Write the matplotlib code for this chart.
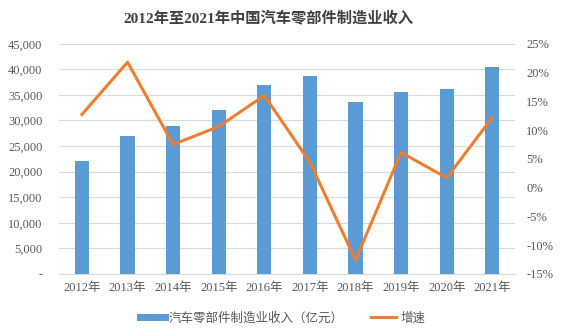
import matplotlib
matplotlib.use("Agg")
import matplotlib.pyplot as plt
from matplotlib.ticker import FuncFormatter
from matplotlib.lines import Line2D

years = ['2012年', '2013年', '2014年', '2015年', '2016年',
         '2017年', '2018年', '2019年', '2020年', '2021年']
revenue = [22100, 27000, 29000, 32000, 37000, 38700, 33600, 35600, 36100, 40500]
growth = [12.7, 21.8, 7.5, 10.6, 16.0, 4.4, -12.6, 6.1, 1.7, 12.2]

blue = '#5B9BD5'
orange = '#ED7D31'
grey = '#595959'
serif = ['Liberation Serif', 'Noto Sans CJK SC']

fig = plt.figure(figsize=(5.63, 3.34), dpi=100)
ax = fig.add_axes([0.105, 0.18, 0.81, 0.689])
x = list(range(len(years)))
ax.bar(x, revenue, width=0.31, color=blue, zorder=3)
ax.set_xlim(-0.5, len(years) - 0.5)
ax.set_ylim(0, 45000)
ax.set_yticks(range(0, 45001, 5000))
ax.yaxis.set_major_formatter(FuncFormatter(lambda v, p: '-' if v == 0 else f'{int(v):,}'))
ax.grid(axis='y', color='#d9d9d9', linewidth=0.8, zorder=0)
ax.set_xticks(x)
ax.set_xticklabels(years)
for s in ['top', 'left', 'right']:
    ax.spines[s].set_visible(False)
ax.spines['bottom'].set_color('#d9d9d9')
ax.tick_params(length=0, colors=grey, labelsize=9)
ax.tick_params(axis='y', pad=12)
ax.tick_params(axis='x', pad=6)
for lab in ax.get_xticklabels() + ax.get_yticklabels():
    lab.set_family(serif)

ax2 = ax.twinx()
ax2.plot(x, growth, color=orange, linewidth=2.2, zorder=4)
ax2.set_ylim(-15, 25)
ax2.set_yticks(range(-15, 26, 5))
ax2.yaxis.set_major_formatter(FuncFormatter(lambda v, p: f'{int(v)}%'))
for s in ['top', 'left', 'right', 'bottom']:
    ax2.spines[s].set_visible(False)
ax2.tick_params(length=0, colors=grey, labelsize=9, pad=8)
for lab in ax2.get_yticklabels():
    lab.set_family(serif)

fig.text(0.476, 0.945, '2012年至2021年中国汽车零部件制造业收入', ha='center', va='center',
         fontsize=11, fontweight='bold', color='#404040', family=serif)

handles = [Line2D([0], [0], color=blue, linewidth=5),
           Line2D([0], [0], color=orange, linewidth=2.2)]
fig.legend(handles, ['汽车零部件制造业收入（亿元）', '增速'], loc='center',
           bbox_to_anchor=(0.502, 0.047), ncol=2, frameon=False, handlelength=2.0,
           columnspacing=2.2, handletextpad=0.3,
           prop={'family': 'Noto Sans CJK SC', 'size': 9}, labelcolor=grey)

fig.savefig('out.png', dpi=100)
